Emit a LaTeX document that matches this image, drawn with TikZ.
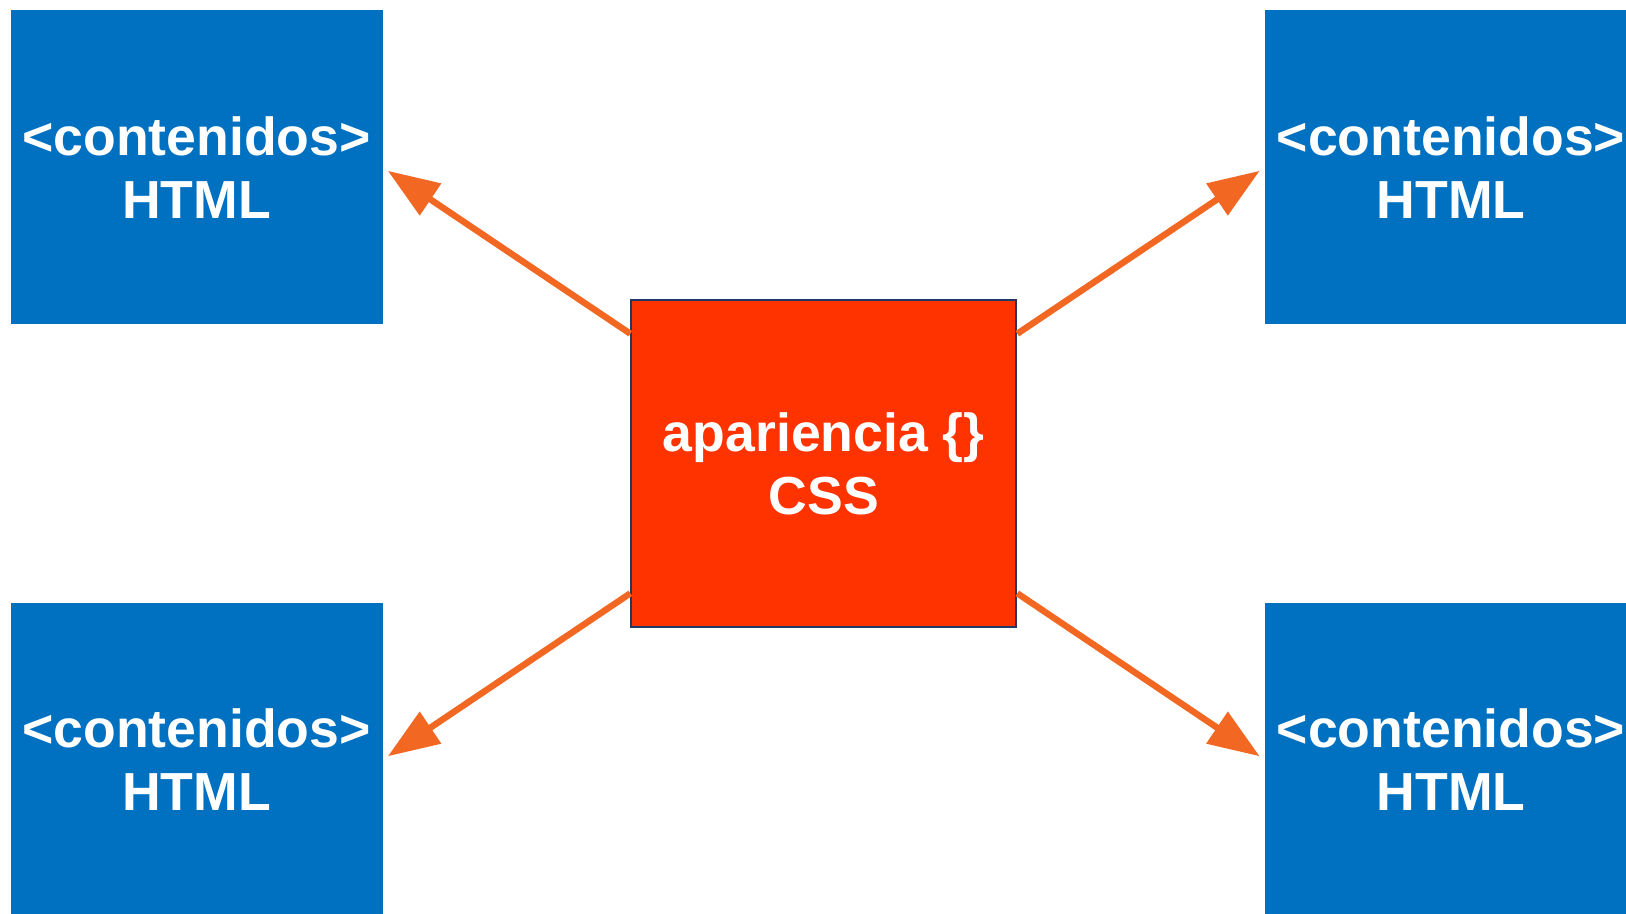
\documentclass[tikz,border=0pt]{standalone}
\usepackage{fontspec}
\setmainfont{Liberation Sans}
\usepackage{xcolor}
\usepackage{tikz}
\usetikzlibrary{arrows.meta}

\definecolor{htmlblue}{HTML}{0070C0}
\definecolor{cssred}{HTML}{FF3300}
\definecolor{cssedge}{HTML}{1F3864}
\definecolor{linkorange}{HTML}{F26722}

\tikzset{
    htmlbox/.style = {fill = htmlblue, minimum width = 186pt, minimum height = 157pt,
        inner sep = 0pt, text = white, align = center,
        font = \bfseries\fontsize{26.8}{31.5}\selectfont},
    cssbox/.style = {htmlbox, fill = cssred, draw = cssedge, line width = 1pt,
        minimum width = 192.5pt, minimum height = 163.5pt},
    link/.style = {linkorange, line width = 3.2pt, shorten > = 3pt,
        -{Triangle[length = 25.7pt, width = 18.5pt]}}
}

\begin{document}
\begin{tikzpicture}[x = 0.5pt, y = -0.5pt]
        \useasboundingbox (0, 0) rectangle (1626, 914);
        \clip (0, 0) rectangle (1626, 914);

        \node[htmlbox] (tl) at (196.5, 167.5) {<contenidos>\\HTML};
        \node[htmlbox] (tr) at (1451, 167.5) {<contenidos>\\HTML};
        \node[htmlbox] (bl) at (196.5, 759.6) {<contenidos>\\HTML};
        \node[htmlbox] (br) at (1451, 759.6) {<contenidos>\\HTML};

        \node[cssbox] (css) at (823.8, 463.5) {apariencia \{\}\\CSS};

        \draw[link] (css) -- (tl.east);
        \draw[link] (css) -- (tr.west);
        \draw[link] (css) -- (bl.east);
        \draw[link] (css) -- (br.west);
    \end{tikzpicture}
\end{document}
